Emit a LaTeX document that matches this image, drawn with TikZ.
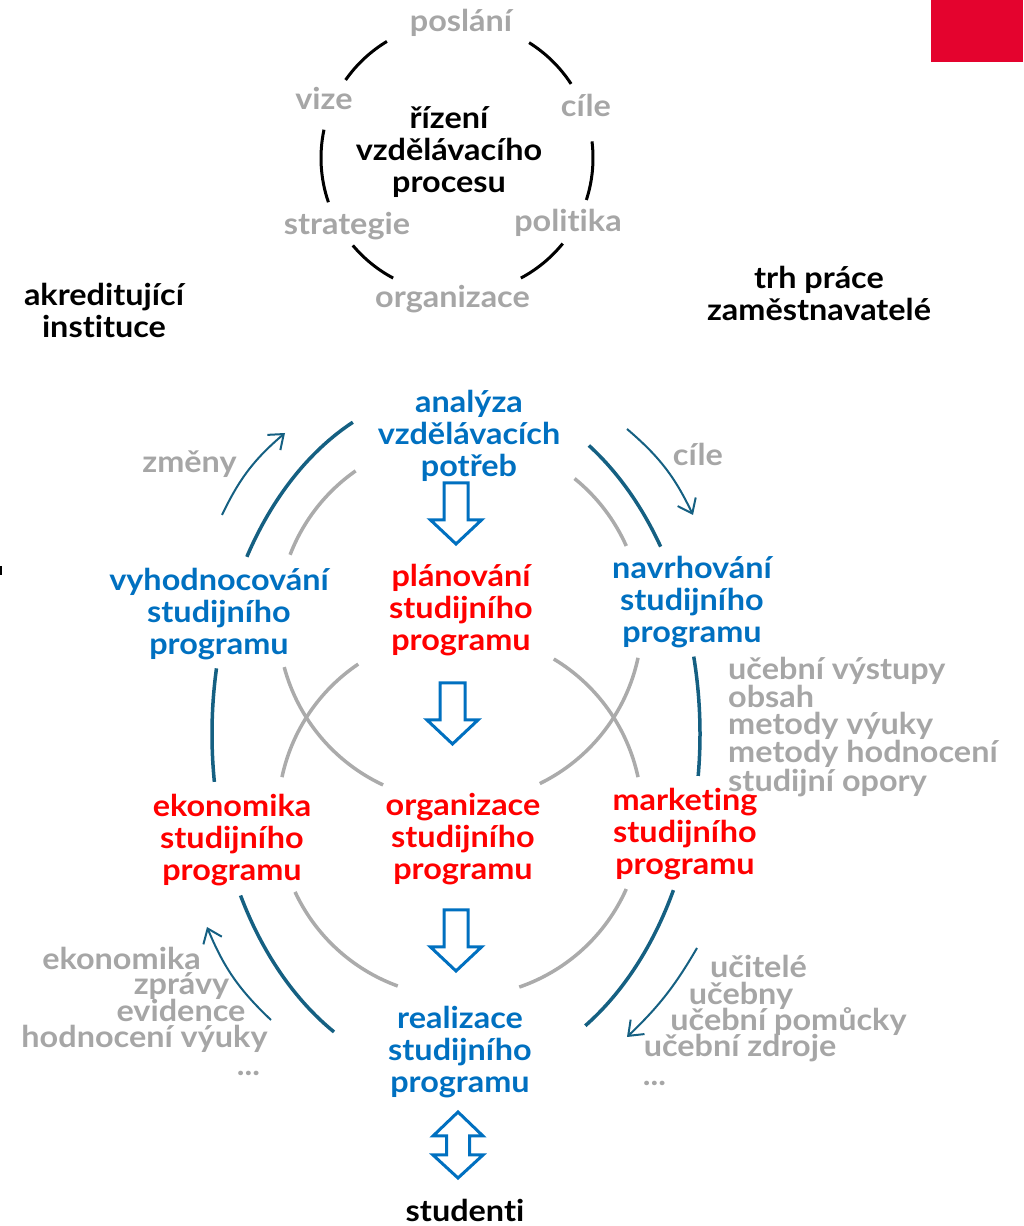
\documentclass[tikz,border=0pt]{standalone}
\usepackage{fontspec}
\setmainfont{Lato}[Ligatures=NoCommon, FakeStretch=1.08]
\usetikzlibrary{arrows.meta,calc}
\definecolor{arcblue}{HTML}{156082}
\definecolor{txtblue}{HTML}{0070C0}
\definecolor{txtred}{HTML}{FF0000}
\definecolor{txtgrey}{HTML}{A6A6A6}
\definecolor{arcgrey}{HTML}{ABABAB}
\definecolor{boxred}{HTML}{E4032E}
\begin{document}
\begin{tikzpicture}[x=1pt,y=1pt,
  lbl/.style={font=\fontsize{30}{32}\selectfont\bfseries, inner sep=0pt, align=center},
  lst/.style={font=\fontsize{30}{26.7}\selectfont\bfseries, inner sep=0pt, text=txtgrey},
  bluetxt/.style={lbl, text=txtblue},
  redtxt/.style={lbl, text=txtred},
  greytxt/.style={lbl, text=txtgrey},
  blacktxt/.style={lbl, text=black},
  ringarc/.style={line width=3pt, black},
  outerarc/.style={line width=3.5pt, arcblue},
  innerarc/.style={line width=3.5pt, arcgrey},
  thinarrow/.style={line width=2pt, arcblue, -{Straight Barb[length=13pt,width=20pt]}},
  blockarrow/.style={line width=3pt, txtblue, fill=white, line join=miter},
]
\useasboundingbox (0,0) rectangle (1023,1226);

% corner marks
\fill[boxred] (931,1164) rectangle (1023,1226);
\fill[black] (0,651) rectangle (2,660);

% centres
\coordinate (C) at (457,1068);
\coordinate (E) at (456,492);
\coordinate (U) at (460,606);
\coordinate (L) at (460,411);

% black ring
\foreach \a/\b in {121/145, 33/58, 168/199, -18/7, 220/242, 298/321}
  \draw[ringarc] ($(C)+(\a:136)$) arc[start angle=\a, end angle=\b, radius=136];

% outer blue ellipse
\foreach \a/\b in {115/149, 33/57, 169/188, -7/13, 208/240, 302/333}
  \draw[outerarc] ($(E)+(\a:244 and 344)$) arc[start angle=\a, end angle=\b, x radius=244, y radius=344];

% grey circles
\foreach \a/\b in {24/51, 125/159, 195/245, 296/348}
  \draw[innerarc] ($(U)+(\a:182)$) arc[start angle=\a, end angle=\b, radius=182];
\foreach \a/\b in {12/59, 124/168, 205/250, 289/336}
  \draw[innerarc] ($(L)+(\a:182)$) arc[start angle=\a, end angle=\b, radius=182];

% top ring texts
\node[blacktxt] (rizeni) at (449,1074) {řízení\\vzdělávacího\\procesu};
\node[greytxt, anchor=base] (poslani) at (461,1194) {poslání};
\node[greytxt, anchor=base] (vize) at (324,1116) {vize};
\node[greytxt, anchor=base] (cile1) at (586,1109) {cíle};
\node[greytxt, anchor=base] (strategie) at (347,991) {strategie};
\node[greytxt, anchor=base] (politika) at (568,994) {politika};
\node[greytxt, anchor=base] (organizace1) at (452.5,918) {organizace};

\node[blacktxt] (akred) at (104,916) {akreditující\\instituce};
\node[blacktxt] (trh) at (819,933) {trh práce\\zaměstnavatelé};

% cycle nodes
\node[bluetxt] (analyza) at (469,790) {analýza\\vzdělávacích\\potřeb};
\node[bluetxt] (vyhod) at (219,612) {vyhodnocování\\studijního\\programu};
\node[redtxt] (plan) at (461,616) {plánování\\studijního\\programu};
\node[bluetxt] (navrh) at (692,624) {navrhování\\studijního\\programu};
\node[redtxt] (ekon) at (232,386) {ekonomika\\studijního\\programu};
\node[redtxt] (org) at (463,387) {organizace\\studijního\\programu};
\node[redtxt] (mark) at (685,392) {marketing\\studijního\\programu};
\node[bluetxt] (real) at (460,174) {realizace\\studijního\\programu};
\node[blacktxt, anchor=base] (stud) at (465,5) {studenti};

\node[greytxt, anchor=base] (zmeny) at (189.5,753) {změny};
\node[greytxt, anchor=base] (cile2) at (698,760) {cíle};

% lists
\node[lst, align=left, anchor=north west] (navrhlist) at (728,569)
  {učební výstupy\\obsah\\metody výuky\\metody hodnocení\\studijní opory};

\node[lst, anchor=base] (l1) at (121.5,256) {ekonomika};
\node[lst, anchor=base] (l2) at (181.5,231) {zprávy};
\node[lst, anchor=base] (l3) at (181,204) {evidence};
\node[lst, anchor=base] (l4) at (144.5,178) {hodnocení výuky};
\node[lst, anchor=base] (l5) at (248.5,150) {...};

\node[lst, anchor=base] (r1) at (758.5,248) {učitelé};
\node[lst, anchor=base] (r2) at (741,221) {učebny};
\node[lst, anchor=base] (r3) at (788.5,195) {učební pomůcky};
\node[lst, anchor=base] (r4) at (740,169) {učební zdroje};
\node[lst, anchor=base] (r5) at (654.5,140) {...};

% block arrows
\draw[blockarrow] (444,743) -- (468,743) -- (468,706) -- (481.5,706) -- (456,682)
  -- (430.5,706) -- (444,706) -- cycle;
\draw[blockarrow] (440,543) -- (465,543) -- (465,506) -- (478,506) -- (452.5,482)
  -- (427,506) -- (440,506) -- cycle;
\draw[blockarrow] (444,316) -- (468,316) -- (468,279) -- (481.5,279) -- (456,255)
  -- (430.5,279) -- (444,279) -- cycle;
\draw[blockarrow] (458,114) -- (483,90) -- (469.5,90) -- (469.5,71) -- (483,71)
  -- (458,48) -- (433,71) -- (446.5,71) -- (446.5,90) -- (433,90) -- cycle;

% thin arrows
\coordinate (a1s) at (222,711); \coordinate (a1e) at (285,793);
\coordinate (a2s) at (627,797); \coordinate (a2e) at (693,711);
\coordinate (a3s) at (271,206); \coordinate (a3e) at (207,299);
\coordinate (a4s) at (697,278); \coordinate (a4e) at (627,189);
\draw[thinarrow] (a1s) to[bend left=12] (a1e);
\draw[thinarrow] (a2s) to[bend left=12] (a2e);
\draw[thinarrow] (a3s) to[bend left=12] (a3e);
\draw[thinarrow] (a4s) to[bend left=8] (a4e);
\end{tikzpicture}
\end{document}
